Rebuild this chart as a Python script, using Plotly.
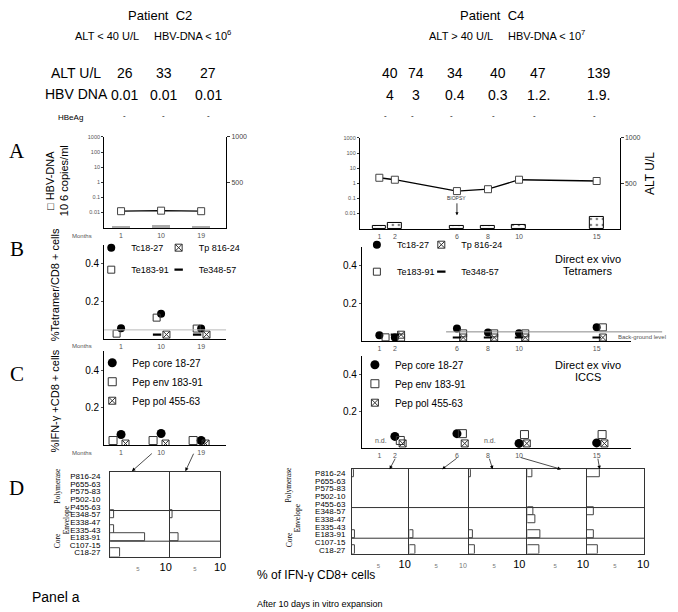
import plotly.graph_objects as go

W, H = 678, 612
OX, OY = 8, 8  # the page body margin offsets the figure on screen


def fx(p):
    return (p - OX) / W


def fy(p):
    return 1 - (p - OY) / H


# ---------------- data ----------------
months_c2 = [1, 10, 19]
months_c4 = [1, 2, 6, 8, 10, 15]

alt_c2 = [26, 33, 27]
alt_c4 = [40, 74, 34, 40, 47, 139]
hbv_table_c2 = ["0.01", "0.01", "0.01"]
hbv_table_c4 = ["4", "3", "0.4", "0.3", "1.2.", "1.9."]
hbeag_c2 = ["-", "-", "-"]
hbeag_c4 = ["-", "-", "-", "-", "-", "-"]

hbv_plot_c2 = [0.012, 0.013, 0.012]
hbv_plot_c4 = [2.3, 1.7, 0.3, 0.4, 1.7, 1.4]

# tetramer staining (% tetramer+ of CD8+)
tet_tc_c2 = [0.058, 0.135, 0.057]
tet_tp_c2 = [None, 0.025, 0.025]
tet_te183_c2 = [0.03, 0.115, 0.057]
tet_te348_c2 = [None, 0.025, 0.025]

tet_tc_c4 = [0.032, 0.02, 0.068, 0.047, 0.042, 0.074]
tet_tp_c4 = [None, 0.035, 0.02, 0.02, 0.02, 0.02]
tet_te183_c4 = [0.021, 0.02, 0.042, 0.042, 0.042, 0.074]
tet_te348_c4 = [None, 0.035, 0.02, 0.02, 0.02, 0.02]

# ICCS (% IFN-g+ of CD8+)
ics_core_c2 = [0.058, 0.063, 0.026]
ics_env_c2 = [0.026, 0.026, 0.026]
ics_pol_c2 = [0.01, 0.01, 0.01]

ics_core_c4 = [None, 0.065, 0.08, None, 0.027, 0.03]
ics_env_c4 = [None, 0.043, 0.08, None, 0.075, 0.075]
ics_pol_c4 = [None, 0.027, 0.027, None, 0.027, 0.027]
nd_months_c4 = [1, 8]

# panel D: % IFN-g CD8+ cells after in vitro expansion
peptides = ["P816-24", "P655-63", "P575-83", "P502-10", "P455-63",
            "E348-57", "E338-47", "E335-43", "E183-91", "C107-15", "C18-27"]
d_c2_m10 = [None, None, None, None, None, 0.7, None, 0.7, 6.3, None, 1.8]
d_c2_m19 = [None, None, None, None, None, 0.6, None, None, 1.7, None, None]
d_c4_m2 = [0.4, None, None, None, None, None, None, None, 0.6, None, 0.6]
d_c4_m6 = [None, None, None, None, None, None, None, None, 0.75, None, 1.1]
d_c4_m8 = [0.4, None, None, None, None, None, None, None, 0.8, None, 1.1]
d_c4_m10 = [0.9, None, None, None, None, 1.1, 1.4, None, 2.3, None, 2.2]
d_c4_m15 = [2.3, None, None, None, None, 1.3, None, None, 1.3, None, 1.9]

# ---------------- styles / layout constants ----------------
FONT = "Liberation Sans"
SERIF = "Liberation Serif"
GREY = "#555"

C2_DOM = (105, 228)
C2_RANGE = [-2.8, 24.6]
C4A_DOM = (363, 625)
C4A_RANGE = [-0.255, 16.475]
C4_DOM = (365, 637)
C4_RANGE = [-0.128, 17.24]

HEADER_COLS_C2 = [126, 165, 210]
HEADER_COLS_C4 = [393, 420, 459, 502, 543, 604]

TET_STYLE = {
    "Tc18-27": dict(symbol="circle", size=8, color="black", line=dict(width=0)),
    "Tp 816-24": dict(symbol="square-x-open", size=7, color="#333", line=dict(width=1, color="#333")),
    "Te183-91": dict(symbol="square-open", size=7, color="#333", line=dict(width=1, color="#333")),
    "Te348-57": dict(symbol="line-ew-open", size=6, color="black", line=dict(width=2.2, color="black")),
}
ICS_STYLE = {
    "Pep core 18-27": dict(symbol="circle", size=9, color="black", line=dict(width=0)),
    "Pep env 183-91": dict(symbol="square-open", size=8, color="#333", line=dict(width=1, color="#333")),
    "Pep pol 455-63": dict(symbol="square-x-open", size=7, color="#333", line=dict(width=1, color="#333")),
}

fig = go.Figure()

# ---------------- panel A ----------------
fig.add_trace(go.Bar(x=months_c2, y=alt_c2, xaxis="x", yaxis="y2", width=4,
                     marker=dict(color="#aaa", line=dict(width=0)), showlegend=False))
fig.add_trace(go.Scatter(x=months_c2, y=hbv_plot_c2, xaxis="x", yaxis="y", mode="lines+markers",
                         line=dict(color="black", width=1.3),
                         marker=dict(symbol="square", size=7, color="white", line=dict(color="#444", width=1)),
                         showlegend=False))
fig.add_trace(go.Bar(x=months_c4, y=alt_c4, xaxis="x3", yaxis="y4", width=0.9,
                     marker=dict(color="white", line=dict(color="black", width=1),
                                 pattern=dict(shape=".", fgcolor="black", size=6, solidity=0.15)),
                     showlegend=False))
fig.add_trace(go.Scatter(x=months_c4, y=hbv_plot_c4, xaxis="x3", yaxis="y3", mode="lines+markers",
                         line=dict(color="black", width=1.3),
                         marker=dict(symbol="square", size=7, color="white", line=dict(color="#444", width=1)),
                         showlegend=False))

# ---------------- panel B ----------------
tet_c2 = [("Tc18-27", tet_tc_c2, 0.0, "legend"), ("Tp 816-24", tet_tp_c2, 1.2, "legend2"),
          ("Te183-91", tet_te183_c2, -1.0, "legend"), ("Te348-57", tet_te348_c2, -0.9, "legend2")]
for name, vals, off, lg in tet_c2:
    fig.add_trace(go.Scatter(x=[m + off for m in months_c2], y=vals, xaxis="x5", yaxis="y5",
                             mode="markers", name=name, marker=TET_STYLE[name],
                             legend=lg, legendgroup="L" + name))
tet_c4 = [("Tc18-27", tet_tc_c4, 0.0, "legend3"), ("Tp 816-24", tet_tp_c4, 0.4, "legend4"),
          ("Te183-91", tet_te183_c4, 0.4, "legend3"), ("Te348-57", tet_te348_c4, 0.0, "legend4")]
for name, vals, off, lg in tet_c4:
    fig.add_trace(go.Scatter(x=[m + off for m in months_c4], y=vals, xaxis="x6", yaxis="y6",
                             mode="markers", name=name, marker=TET_STYLE[name],
                             legend=lg, legendgroup="R" + name))

# ---------------- panel C ----------------
ics_c2 = [("Pep core 18-27", ics_core_c2, 0.0), ("Pep env 183-91", ics_env_c2, -1.8),
          ("Pep pol 455-63", ics_pol_c2, 1.0)]
for name, vals, off in ics_c2:
    fig.add_trace(go.Scatter(x=[m + off for m in months_c2], y=vals, xaxis="x7", yaxis="y7",
                             mode="markers", name=name, marker=ICS_STYLE[name], legend="legend5"))
ics_c4 = [("Pep core 18-27", ics_core_c4, 0.0), ("Pep env 183-91", ics_env_c4, 0.35),
          ("Pep pol 455-63", ics_pol_c4, 0.5)]
for name, vals, off in ics_c4:
    fig.add_trace(go.Scatter(x=[m + off for m in months_c4], y=vals, xaxis="x8", yaxis="y8",
                             mode="markers", name=name, marker=ICS_STYLE[name], legend="legend6"))

# ---------------- panel D ----------------
d_left = [(9, d_c2_m10), (10, d_c2_m19)]
d_right = [(11, d_c4_m2), (12, d_c4_m6), (13, d_c4_m8), (14, d_c4_m10), (15, d_c4_m15)]
for idx, vals in d_left + d_right:
    fig.add_trace(go.Bar(y=peptides, x=vals, orientation="h", xaxis="x%d" % idx, yaxis="y%d" % idx,
                         width=1.1, marker=dict(color="white", line=dict(color="#444", width=1)),
                         showlegend=False))


# ---------------- axes ----------------
def month_axis(dom, rng, anchor, months):
    return dict(domain=[fx(dom[0]), fx(dom[1])], range=rng, anchor=anchor, showline=True,
                linecolor="black", linewidth=1, showgrid=False, zeroline=False,
                tickmode="array", tickvals=months, ticktext=[str(m) for m in months],
                tickfont=dict(size=7, color=GREY), ticks="")


log_ticks = [0.01, 0.1, 1, 10, 100, 1000]
log_text = ["0.01", "0.1", "1", "10", "100", "1000"]


def log_axis(top, bottom, anchor):
    return dict(domain=[fy(bottom), fy(top)], type="log", range=[-3.05, 3.0], anchor=anchor,
                showline=True, linecolor="black", linewidth=1, showgrid=False, zeroline=False,
                tickmode="array", tickvals=log_ticks, ticktext=log_text,
                tickfont=dict(size=5.5, color=GREY), ticks="outside", ticklen=2, tickcolor="#333")


def alt_axis(overlay, anchor):
    return dict(overlaying=overlay, anchor=anchor, side="right", range=[0, 1000], showline=True,
                linecolor="black", linewidth=1, showgrid=False, zeroline=False,
                tickmode="array", tickvals=[500, 1000], ticktext=["500", "1000"],
                tickfont=dict(size=7, color="#444"), ticks="outside", ticklen=3, tickcolor="#333")


def pct_axis(top, bottom, anchor):
    return dict(domain=[fy(bottom), fy(top)], range=[0, 0.5], anchor=anchor, showline=True,
                linecolor="black", linewidth=1, showgrid=False, zeroline=False,
                tickmode="array", tickvals=[0.2, 0.4], ticktext=["0.2", "0.4"],
                tickfont=dict(size=10, color="black"), ticks="outside", ticklen=2, tickcolor="#555")


def pct_small_axis(overlay, anchor):
    return dict(overlaying=overlay, anchor=anchor, side="left", range=[0, 0.5], showline=False,
                showgrid=False, zeroline=False, tickmode="array", tickvals=[0.05], ticktext=["0.05"],
                tickfont=dict(size=7, color=GREY), ticks="outside", ticklen=2, tickcolor="#555")


layout_axes = dict(
    xaxis=month_axis(C2_DOM, C2_RANGE, "y", months_c2),
    yaxis=log_axis(134, 226, "x"),
    yaxis2=alt_axis("y", "x"),
    xaxis3=month_axis(C4A_DOM, C4A_RANGE, "y3", months_c4),
    yaxis3=log_axis(135, 227, "x3"),
    yaxis4=alt_axis("y3", "x3"),
    xaxis5=month_axis(C2_DOM, C2_RANGE, "y5", months_c2),
    yaxis5=pct_axis(243, 338, "x5"),
    xaxis6=month_axis(C4_DOM, C4_RANGE, "y6", months_c4),
    yaxis6=pct_axis(245, 340, "x6"),
    xaxis7=month_axis(C2_DOM, C2_RANGE, "y7", months_c2),
    yaxis7=pct_axis(350, 445, "x7"),
    xaxis8=month_axis(C4_DOM, C4_RANGE, "y8", months_c4),
    yaxis8=pct_axis(355, 448, "x8"),
    yaxis16=pct_small_axis("y5", "x5"),
    yaxis17=pct_small_axis("y6", "x6"),
    yaxis18=pct_small_axis("y7", "x7"),
    yaxis19=pct_small_axis("y8", "x8"),
)

big10 = "10"
small10 = '<span style="font-size:7px;color:#777">10</span>'
small5 = '<span style="font-size:6px;color:#777">5</span>'
d_specs = [
    (9, (111, 171), 10.7, big10, True, False, (472, 557), 7),
    (10, (171, 222), 10.0, big10, False, True, (472, 557), 7),
    (11, (355, 413), 10.9, big10, True, False, (469, 554), 4),
    (12, (413, 473), 11.1, small10, False, False, (469, 554), 4),
    (13, (473, 532), 11.6, big10, False, False, (469, 554), 4),
    (14, (532, 592), 10.7, big10, False, False, (469, 554), 4),
    (15, (592, 650), 10.2, big10, False, True, (469, 554), 4),
]
for idx, dom, xmax, t10, labels, last, ydom, standoff in d_specs:
    layout_axes["xaxis%d" % idx] = dict(
        domain=[fx(dom[0]), fx(dom[1])], range=[0, xmax], anchor="y%d" % idx, showline=True,
        mirror=True, linecolor="#333", linewidth=1, showgrid=False, zeroline=False,
        tickmode="array", tickvals=[5, 10], ticktext=[small5, t10],
        tickfont=dict(size=11, color="black"), ticks="")
    layout_axes["yaxis%d" % idx] = dict(
        domain=[fy(ydom[1]), fy(ydom[0])], type="category", categoryorder="array",
        categoryarray=peptides, range=[10.5, -0.5], anchor="x%d" % idx, showline=True,
        mirror=last, linecolor="#333", linewidth=1, showgrid=False, zeroline=False,
        showticklabels=labels, ticks="", tickmode="array", tickvals=peptides, ticktext=peptides,
        tickfont=dict(size=8, color="black"), ticklabelstandoff=standoff)

# ---------------- annotations ----------------
ann = []


def text(x, y, s, size=11, color="black", family=FONT, xanchor="center", angle=0, xref="paper", xshift=0):
    ann.append(dict(x=x if xref != "paper" else fx(x), y=fy(y), xref=xref, yref="paper", text=s,
                    showarrow=False, font=dict(size=size, color=color, family=family),
                    xanchor=xanchor, yanchor="middle", textangle=angle, xshift=xshift))


text(161, 12, "Patient  C2", 13)
text(154, 31, "ALT < 40 U/L     HBV-DNA < 10<sup>6</sup>", 11)
text(496, 12, "Patient  C4", 13)
text(511, 31, "ALT > 40 U/L     HBV-DNA < 10<sup>7</sup>", 11)
text(77, 69, "ALT U/L", 14)
text(77, 91, "HBV DNA", 14)
text(71, 114, "HBeAg", 8)
for cx, a, h, e in zip(HEADER_COLS_C2, alt_c2, hbv_table_c2, hbeag_c2):
    text(cx, 70, str(a), 14)
    text(cx, 92, h, 14)
    text(cx, 112, e, 8)
for cx, a, h, e in zip(HEADER_COLS_C4, alt_c4, hbv_table_c4, hbeag_c4):
    text(cx, 70, str(a), 14)
    text(cx, 92, h, 14)
    text(cx - 4, 112, e, 8)

# panel letters
for letter, y in [("A", 148), ("B", 247), ("C", 373), ("D", 488)]:
    text(17, y, letter, 21, family=SERIF)

# axis titles
text(57, 178, "\u25a1 HBV-DNA<br>10 6 copies/ml", 11, angle=-90)
text(655, 171, "ALT U/L", 12, angle=-90)
text(55, 283, "%Tetramer/CD8 + cells", 11, angle=-90)
text(55, 400, "%IFN-\u03b3 +CD8 + cells", 11, angle=-90)
for y in (234, 345, 453):
    text(83, y, "Months", 6, color=GREY)

text(593, 257, "Direct ex vivo", 11)
text(593, 269, "Tetramers", 11)
text(593, 364, "Direct ex vivo", 11)
text(593, 376, "ICCS", 11)
text(648, 336, "Back-ground level", 6, color=GREY)
for m in nd_months_c4:
    text(m, 440, "n.d.", 7, color=GREY, xref="x8", xshift=2)

# biopsy arrow
ann.append(dict(x=6, y=fy(213), xref="x3", yref="paper", text="BIOPSY", showarrow=True,
                ax=0, ay=-12, arrowhead=2, arrowsize=0.8, arrowwidth=0.8, arrowcolor="black",
                font=dict(size=5, family=FONT, color="#333"), yanchor="bottom"))

# panel D labels
text(257, 576, "% of IFN-\u03b3 CD8+ cells", 12, xanchor="left")
text(257, 605, "After 10 days in vitro expansion", 9, xanchor="left")
text(30, 598, "Panel a", 14, xanchor="left")
for xp, yp, s in [(58, 486, "Polymerase"), (67, 520, "Envelope"), (58, 541, "Core"),
                  (291, 484, "Polymerase"), (300, 518, "Envelope"), (292, 540, "Core")]:
    text(xp, yp, s, 7.5, family=SERIF, angle=-90)


# arrows from month labels to panel D
def c2_px(m):
    return C2_DOM[0] + (m - C2_RANGE[0]) * (C2_DOM[1] - C2_DOM[0]) / (C2_RANGE[1] - C2_RANGE[0])


def c4_px(m):
    return C4_DOM[0] + (m - C4_RANGE[0]) * (C4_DOM[1] - C4_DOM[0]) / (C4_RANGE[1] - C4_RANGE[0])


arrows = [(c2_px(10) - 8, 452, 133, 471), (c2_px(19) - 7, 452, 187, 471)]
for m, hx in zip([2, 6, 8, 10, 15], [393, 446, 497, 566, 605]):
    arrows.append((c4_px(m) + 1, 457, hx, 469))
for tx, ty, hx, hy in arrows:
    ann.append(dict(x=fx(hx), y=fy(hy), xref="paper", yref="paper", text="", showarrow=True,
                    ax=tx - hx, ay=ty - hy, axref="pixel", ayref="pixel", arrowhead=2,
                    arrowsize=1, arrowwidth=0.7, arrowcolor="black"))

# ---------------- shapes ----------------
shapes = [
    dict(type="line", xref="paper", yref="y5", x0=fx(105), x1=fx(228), y0=0.05, y1=0.05,
         line=dict(color="#bbb", width=1)),
    dict(type="line", xref="paper", yref="y6", x0=fx(450), x1=fx(668), y0=0.05, y1=0.05,
         line=dict(color="#888", width=1)),
]
for yref, x0, x1 in [("y9", 111, 222), ("y11", 355, 650)]:
    for yv in (4.5, 8.5):
        shapes.append(dict(type="line", xref="paper", yref=yref, x0=fx(x0), x1=fx(x1), y0=yv, y1=yv,
                           line=dict(color="#333", width=1)))


def legend_box(x, y, size, gap):
    return dict(x=fx(x), y=fy(y), xanchor="left", yanchor="top", bgcolor="rgba(0,0,0,0)",
                font=dict(size=size, family=FONT, color="black"), tracegroupgap=gap,
                itemwidth=30, borderwidth=0)


fig.update_layout(
    width=W, height=H, margin=dict(l=0, r=0, t=0, b=0),
    paper_bgcolor="white", plot_bgcolor="white",
    font=dict(family=FONT, color="black"),
    showlegend=True,
    legend=legend_box(92, 231, 9, 3),
    legend2=legend_box(160, 231, 9, 3),
    legend3=legend_box(360, 228, 9, 8),
    legend4=legend_box(425, 228, 9, 8),
    legend5=legend_box(93, 347, 10, 0),
    legend6=legend_box(358, 349, 10, 0),
    annotations=ann, shapes=shapes, bargap=0,
    **layout_axes,
)

fig.write_html("out.html")
